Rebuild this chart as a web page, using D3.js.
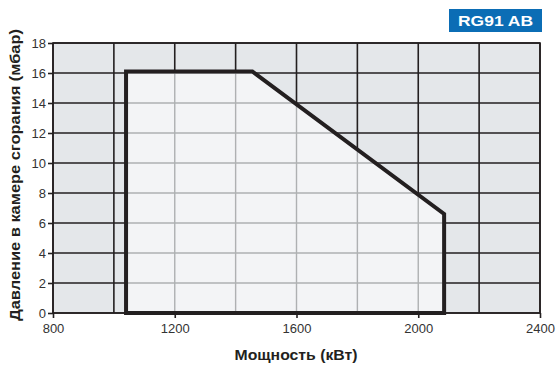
<!DOCTYPE html>
<html>
<head>
<meta charset="utf-8">
<script src="https://cdn.jsdelivr.net/npm/d3@7"></script>
<style>
  body { margin: 0; background: #fff; }
  text { font-family: "Liberation Sans", Arial, sans-serif; }
</style>
</head>
<body>
<div id="chart"></div>
<script>
// data
const xTicks = [800, 1200, 1600, 2000, 2400];
const yTicks = [0, 2, 4, 6, 8, 10, 12, 14, 16, 18];
const fieldPower = [1040, 1040, 1455, 2085, 2085];
const fieldPressure = [0, 16.1, 16.1, 6.6, 0];
const model = "RG91 AB";
const xTitle = "Мощность (кВт)";
const yTitle = "Давление в камере сгорания (мбар)";

const width = 558, height = 365;
const margin = { left: 53, right: 18, top: 43, bottom: 52 };

const svg = d3.select("#chart").append("svg")
  .attr("width", width).attr("height", height);

const x = d3.scaleLinear().domain([800, 2400]).range([margin.left, width - margin.right]);
const y = d3.scaleLinear().domain([0, 18]).range([height - margin.bottom, margin.top]);

const gridX = d3.range(800, 2401, 200);
const gridY = d3.range(0, 19, 2);

// background
svg.append("rect")
  .attr("x", x(800)).attr("y", y(18))
  .attr("width", x(2400) - x(800)).attr("height", y(0) - y(18))
  .attr("fill", "#e4e7ea");

function drawGrid(g, color, w) {
  g.selectAll("line.v").data(gridX).join("line").attr("class", "v")
    .attr("x1", d => x(d)).attr("x2", d => x(d))
    .attr("y1", y(0)).attr("y2", y(18))
    .attr("stroke", color).attr("stroke-width", w);
  g.selectAll("line.h").data(gridY).join("line").attr("class", "h")
    .attr("x1", x(800)).attr("x2", x(2400))
    .attr("y1", d => y(d)).attr("y2", d => y(d))
    .attr("stroke", color).attr("stroke-width", w);
}

drawGrid(svg.append("g"), "#231f20", 1.6);

// working field
const pts = fieldPower.map((p, i) => [x(p), y(fieldPressure[i])]);
const line = d3.line();

svg.append("clipPath").attr("id", "field")
  .append("path").attr("d", line(pts) + "Z");

svg.append("path").attr("d", line(pts) + "Z").attr("fill", "#f3f4f6");

drawGrid(svg.append("g").attr("clip-path", "url(#field)"), "#aeb0b2", 1.4);

// frame
svg.append("rect")
  .attr("x", x(800)).attr("y", y(18))
  .attr("width", x(2400) - x(800)).attr("height", y(0) - y(18))
  .attr("fill", "none").attr("stroke", "#231f20").attr("stroke-width", 1.6);

svg.append("path").attr("d", line(pts) + "Z")
  .attr("fill", "none").attr("stroke", "#231f20")
  .attr("stroke-width", 4).attr("stroke-linejoin", "miter");

// axes
const xAxis = svg.append("g")
  .attr("transform", `translate(0,${y(0)})`)
  .call(d3.axisBottom(x).tickValues(xTicks).tickFormat(d3.format("d")).tickSize(5).tickPadding(6));
const yAxis = svg.append("g")
  .attr("transform", `translate(${x(800)},0)`)
  .call(d3.axisLeft(y).tickValues(yTicks).tickSize(5).tickPadding(2));

[xAxis, yAxis].forEach(a => {
  a.select(".domain").remove();
  a.selectAll(".tick line").attr("stroke", "#231f20").attr("stroke-width", 1.6);
  a.selectAll(".tick text").attr("fill", "#333").attr("font-size", 13)
    .attr("font-family", "Liberation Sans, Arial, sans-serif");
});

// titles
svg.append("text")
  .attr("x", 296).attr("y", 360)
  .attr("text-anchor", "middle")
  .attr("font-size", 15).attr("font-weight", "bold").attr("fill", "#231f20")
  .attr("textLength", 123).attr("lengthAdjust", "spacingAndGlyphs")
  .text(xTitle);

svg.append("text")
  .attr("transform", "translate(20,175) rotate(-90)")
  .attr("text-anchor", "middle")
  .attr("font-size", 15).attr("font-weight", "bold").attr("fill", "#231f20")
  .attr("textLength", 292).attr("lengthAdjust", "spacingAndGlyphs")
  .text(yTitle);

// model badge
svg.append("rect")
  .attr("x", 449).attr("y", 9).attr("width", 93).attr("height", 23)
  .attr("fill", "#0b6db5");
svg.append("text")
  .attr("x", 495.5).attr("y", 26)
  .attr("text-anchor", "middle")
  .attr("font-size", 15).attr("font-weight", "bold").attr("fill", "#fff")
  .attr("textLength", 75).attr("lengthAdjust", "spacingAndGlyphs")
  .text(model);
</script>
</body>
</html>
